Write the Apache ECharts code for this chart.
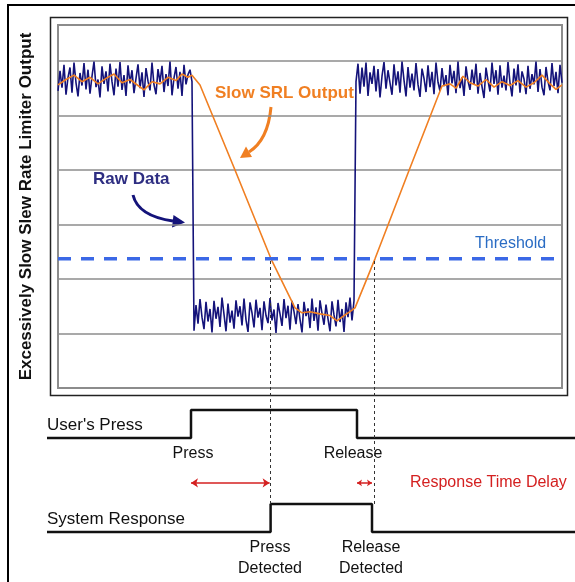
<!DOCTYPE html>
<html>
<head>
<meta charset="utf-8">
<script src="https://cdn.jsdelivr.net/npm/echarts@6/dist/echarts.min.js"></script>
<style>
html,body{margin:0;padding:0;background:#fff;}
#chart{width:575px;height:582px;}
</style>
</head>
<body>
<div id="chart"></div>
<script>
// ---- data (time in samples, value in output units) ----
var rawHigh1 = [5.45,5.82,5.51,5.93,5.38,5.70,5.88,5.42,5.97,5.60,
5.35,5.78,5.55,5.96,5.48,5.84,5.40,5.72,5.99,5.52,
5.66,5.33,5.90,5.58,5.81,5.44,5.95,5.62,5.37,5.86,
5.53,5.98,5.47,5.74,5.36,5.92,5.59,5.83,5.41,5.68,
5.94,5.50,5.79,5.34,5.87,5.63,5.46,5.97,5.56,5.39,
5.85,5.61,5.91,5.43,5.76,5.54,5.99,5.37,5.69,5.89,
5.49,5.80,5.36,5.93,5.57,5.75,5.84,5.62];
var rawLow = [1.05,1.52,1.18,1.63,1.30,1.08,1.58,1.22,1.45,1.02,
1.60,1.27,1.49,1.12,1.66,1.35,1.04,1.55,1.20,1.42,
1.09,1.61,1.31,1.50,1.15,1.64,1.25,1.03,1.57,1.38,
1.11,1.62,1.29,1.47,1.06,1.59,1.33,1.19,1.65,1.24,
1.44,1.01,1.56,1.36,1.14,1.63,1.28,1.51,1.07,1.60,
1.40,1.17,1.54,1.26,1.02,1.58,1.32,1.46,1.10,1.64,
1.23,1.48,1.05,1.61,1.37,1.16,1.53,1.27,1.04,1.59,
1.34,1.13,1.62,1.21,1.45,1.03,1.57,1.30,1.66,1.24,1.60];
var rawHigh2 = [5.62,5.95,5.40,5.88,5.53,5.97,5.36,5.79,5.58,5.91,
5.44,5.85,5.33,5.72,5.98,5.49,5.83,5.60,5.38,5.94,
5.55,5.81,5.42,5.99,5.65,5.35,5.89,5.51,5.77,5.46,
5.96,5.57,5.34,5.86,5.68,5.43,5.92,5.52,5.80,5.39,
5.97,5.61,5.45,5.87,5.54,5.74,5.37,5.93,5.59,5.82,
5.41,5.99,5.50,5.70,5.36,5.90,5.63,5.47,5.84,5.56,
5.95,5.40,5.78,5.53,5.32,5.88,5.64,5.44,5.97,5.58,
5.83,5.38,5.92,5.51,5.73,5.46,5.98,5.60,5.35,5.86,
5.55,5.94,5.42,5.81,5.67,5.39,5.91,5.49,5.76,5.57,
5.99,5.43,5.85,5.52,5.37,5.89,5.62,5.46,5.96,5.54,
5.80,5.41,5.93,5.60];

var srlTime = [0,4,8,12,16,20,24,28,32,36,40,43,47,51,55,59,62,65,67,71,88.5,106.5,118.5,122,126,131,136,139.5,143.5,146,148.5,158.5,175.5,192,196,199,202.5,206,210,214,218,222,226,230,234,238,242,246,249,252];
var srlValue = [5.56,5.66,5.74,5.62,5.70,5.58,5.68,5.76,5.60,5.66,5.55,5.47,5.62,5.58,5.70,5.64,5.76,5.70,5.74,5.56,4.00,2.37,1.47,1.38,1.40,1.36,1.33,1.23,1.34,1.40,1.47,2.37,3.99,5.54,5.58,5.50,5.72,5.60,5.54,5.66,5.52,5.62,5.55,5.64,5.52,5.60,5.74,5.58,5.48,5.56];

var threshold = 2.37;
var timeStart = -5.5, timeEnd = 258.5;
var pressTime = 66.5, releaseTime = 149.5;
var pressDetectedTime = 106.3, releaseDetectedTime = 157;

// ---- build series data ----
var rawAll = rawHigh1.concat(rawLow, rawHigh2);
var rawData = rawAll.map(function (v, i) { return [i, v]; });
var srlData = srlTime.map(function (t, i) { return [t, srlValue[i]]; });
var userData = [[timeStart, 0], [pressTime, 1], [releaseTime, 0], [timeEnd, 0]];
var sysData = [[timeStart, 0], [pressDetectedTime, 1], [releaseDetectedTime, 0], [timeEnd, 0]];

var chart = echarts.init(document.getElementById('chart'), null, {renderer: 'canvas'});
var FONT = 'Liberation Sans, Arial, sans-serif';
var gray = '#8c8c8c';
var arrowLevel = 0.086;

var option = {
  animation: false,
  backgroundColor: '#ffffff',
  grid: [
    {left: 58, top: 25, width: 504, height: 363, show: true, borderColor: gray, borderWidth: 2, backgroundColor: '#fff'},
    {left: 47, top: 410, width: 528, height: 28},
    {left: 47, top: 504, width: 528, height: 28},
    {left: 47, top: 259, width: 528, height: 245}
  ],
  xAxis: [
    {gridIndex: 0, type: 'value', min: 0, max: 252, show: false},
    {gridIndex: 1, type: 'value', min: timeStart, max: timeEnd, show: false},
    {gridIndex: 2, type: 'value', min: timeStart, max: timeEnd, show: false},
    {gridIndex: 3, type: 'value', min: timeStart, max: timeEnd, show: false}
  ],
  yAxis: [
    {gridIndex: 0, type: 'value', min: 0, max: 6.66, interval: 1,
     axisLine: {show: false}, axisTick: {show: false}, axisLabel: {show: false},
     splitLine: {show: true, lineStyle: {color: gray, width: 1.5}},
     name: 'Excessively Slow Slew Rate Limiter Output', nameLocation: 'middle', nameGap: 23,
     nameRotate: 90,
     nameTextStyle: {fontFamily: FONT, fontWeight: 'bold', fontSize: 17, color: '#111'}},
    {gridIndex: 1, type: 'value', min: 0, max: 1, show: false},
    {gridIndex: 2, type: 'value', min: 0, max: 1, show: false},
    {gridIndex: 3, type: 'value', min: 0, max: 1, show: false}
  ],
  series: [
    {type: 'line', name: 'Raw Data', xAxisIndex: 0, yAxisIndex: 0, data: rawData,
     symbol: 'none', lineStyle: {color: '#14137a', width: 1.6}, z: 3},
    {type: 'line', name: 'Slow SRL Output', xAxisIndex: 0, yAxisIndex: 0, data: srlData,
     symbol: 'none', lineStyle: {color: '#f07f22', width: 1.6}, z: 4},
    {type: 'line', name: 'Threshold', xAxisIndex: 0, yAxisIndex: 0,
     data: [[0, threshold], [252, threshold]], symbol: 'none',
     lineStyle: {color: '#3b68e6', width: 3.5, type: [13, 10]}, z: 5},
    {type: 'line', name: "User's Press", xAxisIndex: 1, yAxisIndex: 1, data: userData, step: 'end',
     symbol: 'none', clip: false, lineStyle: {color: '#111', width: 2.5}},
    {type: 'line', name: 'System Response', xAxisIndex: 2, yAxisIndex: 2, data: sysData, step: 'end',
     symbol: 'none', clip: false, lineStyle: {color: '#111', width: 2.5}},
    {type: 'lines', coordinateSystem: 'cartesian2d', xAxisIndex: 3, yAxisIndex: 3,
     symbol: 'none', lineStyle: {color: '#333', width: 1, type: [3, 3], opacity: 1},
     data: [{coords: [[pressDetectedTime, 0], [pressDetectedTime, 1]]},
            {coords: [[releaseDetectedTime + 1, 0], [releaseDetectedTime + 1, 1]]}], z: 6},
    {type: 'lines', coordinateSystem: 'cartesian2d', xAxisIndex: 3, yAxisIndex: 3,
     symbol: ['arrow', 'arrow'], symbolSize: 7,
     lineStyle: {color: '#d42020', width: 1.5, opacity: 1},
     data: [{coords: [[pressTime, arrowLevel], [pressDetectedTime - 0.5, arrowLevel]]},
            {coords: [[releaseTime, arrowLevel], [releaseDetectedTime, arrowLevel]], symbolSize: 5}], z: 6}
  ],
  graphic: [
    {type: 'line', shape: {x1: 8, y1: 5, x2: 8, y2: 582}, style: {stroke: '#000', lineWidth: 2}},
    {type: 'line', shape: {x1: 7, y1: 5, x2: 575, y2: 5}, style: {stroke: '#000', lineWidth: 2}},
    {type: 'rect', z: -1, shape: {x: 50.5, y: 17.5, width: 517, height: 378}, style: {fill: 'none', stroke: '#222', lineWidth: 1.5}},
    {type: 'text', x: 215, y: 93, style: {text: 'Slow SRL Output', font: 'bold 17px ' + FONT, fill: '#f07f22', textVerticalAlign: 'middle'}},
    {type: 'text', x: 93, y: 179, style: {text: 'Raw Data', font: 'bold 17px ' + FONT, fill: '#2e2e82', textVerticalAlign: 'middle'}},
    {type: 'text', x: 475, y: 244, style: {text: 'Threshold', font: '16px ' + FONT, fill: '#2a6cc4', textVerticalAlign: 'middle'}},
    {type: 'bezierCurve', shape: {x1: 271, y1: 107, cpx1: 268, cpy1: 140, x2: 249, y2: 152}, style: {stroke: '#f07f22', lineWidth: 3, fill: 'none'}},
    {type: 'polygon', shape: {points: [[240, 158], [252, 157], [246, 146.5]]}, style: {fill: '#f07f22'}},
    {type: 'bezierCurve', shape: {x1: 133, y1: 195, cpx1: 138, cpy1: 216, x2: 173, y2: 221}, style: {stroke: '#14137a', lineWidth: 3, fill: 'none'}},
    {type: 'polygon', shape: {points: [[185, 222.5], [172, 227.5], [173.5, 215]]}, style: {fill: '#14137a'}},
    {type: 'text', x: 47, y: 425, style: {text: "User's Press", font: '17px ' + FONT, fill: '#111', textVerticalAlign: 'middle'}},
    {type: 'text', x: 193, y: 454, style: {text: 'Press', font: '16px ' + FONT, fill: '#111', textAlign: 'center', textVerticalAlign: 'middle'}},
    {type: 'text', x: 353, y: 454, style: {text: 'Release', font: '16px ' + FONT, fill: '#111', textAlign: 'center', textVerticalAlign: 'middle'}},
    {type: 'text', x: 410, y: 483, style: {text: 'Response Time Delay', font: '16px ' + FONT, fill: '#d42020', textVerticalAlign: 'middle'}},
    {type: 'text', x: 47, y: 519, style: {text: 'System Response', font: '17px ' + FONT, fill: '#111', textVerticalAlign: 'middle'}},
    {type: 'text', x: 270, y: 548, style: {text: 'Press', font: '16px ' + FONT, fill: '#111', textAlign: 'center', textVerticalAlign: 'middle'}},
    {type: 'text', x: 270, y: 569, style: {text: 'Detected', font: '16px ' + FONT, fill: '#111', textAlign: 'center', textVerticalAlign: 'middle'}},
    {type: 'text', x: 371, y: 548, style: {text: 'Release', font: '16px ' + FONT, fill: '#111', textAlign: 'center', textVerticalAlign: 'middle'}},
    {type: 'text', x: 371, y: 569, style: {text: 'Detected', font: '16px ' + FONT, fill: '#111', textAlign: 'center', textVerticalAlign: 'middle'}}
  ]
};
chart.setOption(option);
</script>
</body>
</html>
